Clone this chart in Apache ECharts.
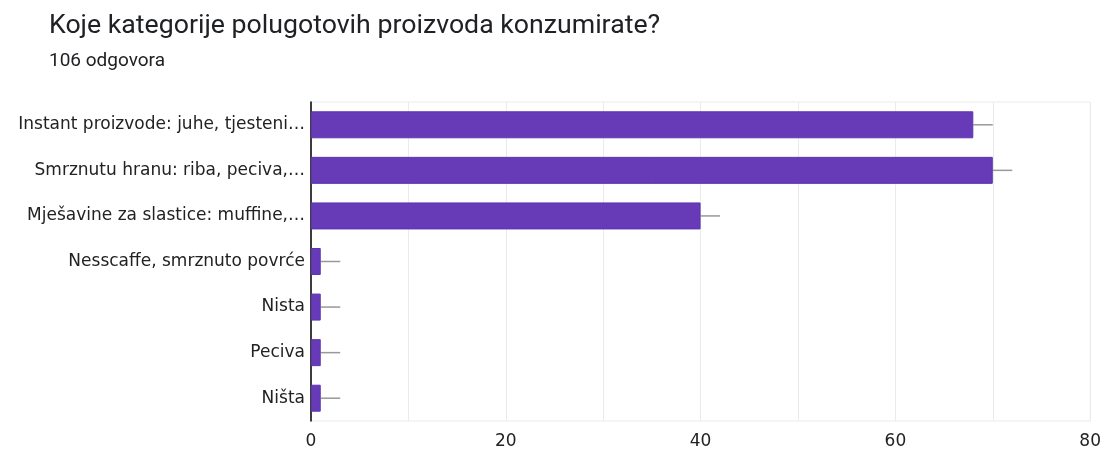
<!DOCTYPE html>
<html>
<head>
<meta charset="utf-8">
<script src="https://cdn.jsdelivr.net/npm/echarts@6/dist/echarts.min.js"></script>
<style>
html,body{margin:0;padding:0;background:#fff;}
#chart{width:1104px;height:450px;}
</style>
</head>
<body>
<div id="chart"></div>
<script>
const titleText = 'Koje kategorije polugotovih proizvoda konzumirate?';
const subtitleText = '106 odgovora';
const categories = [
  'Instant proizvode: juhe, tjesteni…',
  'Smrznutu hranu: riba, peciva,…',
  'Mješavine za slastice: muffine,…',
  'Nesscaffe, smrznuto povrće',
  'Nista',
  'Peciva',
  'Ništa'
];
const counts = [68, 70, 40, 1, 1, 1, 1];
const whiskerLength = [2, 2, 2, 2, 2, 2, 2];
const xTicks = [0, 20, 40, 60, 80];

const labelFont = 'DejaVu Sans';
const chart = echarts.init(document.getElementById('chart'), null, {renderer: 'canvas'});
chart.setOption({
  animation: false,
  backgroundColor: '#fff',
  title: [
    {text: titleText, left: 44, top: 8, textStyle: {fontFamily: 'Roboto', fontSize: 26.7, fontWeight: 'normal', color: '#202124'}},
    {text: subtitleText, left: 44, top: 47, textStyle: {fontFamily: 'Roboto', fontSize: 19, fontWeight: 'normal', color: '#202124'}}
  ],
  grid: {left: 311, right: 12, top: 102, bottom: 27, show: true, borderColor: '#ebebeb', borderWidth: 1},
  xAxis: {
    type: 'value', min: 0, max: 80, interval: 10,
    axisLine: {show: false}, axisTick: {show: false},
    splitLine: {show: true, lineStyle: {color: '#ebebeb', width: 1}},
    axisLabel: {
      margin: 12, fontFamily: labelFont, fontSize: 17, color: '#222',
      formatter: v => xTicks.indexOf(v) >= 0 ? String(v) : ''
    }
  },
  yAxis: {
    type: 'category', data: categories, inverse: true,
    axisLine: {show: true, lineStyle: {color: '#000', width: 1.5}},
    axisTick: {show: false},
    axisLabel: {margin: 6, fontFamily: labelFont, fontSize: 17, color: '#222'}
  },
  series: [
    {
      type: 'bar', data: counts, barWidth: 27,
      itemStyle: {color: '#673ab7', borderColor: '#5e35b1', borderWidth: 1}
    },
    {
      type: 'custom',
      data: counts.map((v, i) => [v, i, whiskerLength[i]]),
      encode: {x: 0, y: 1},
      renderItem: function (params, api) {
        const v = api.value(0), i = api.value(1), w = api.value(2);
        const p1 = api.coord([v, i]);
        const p2 = api.coord([v + w, i]);
        return {type: 'line', shape: {x1: p1[0], y1: p1[1], x2: p2[0], y2: p2[1]}, style: {stroke: '#999', lineWidth: 1.5}};
      },
      z: 1
    }
  ]
});
</script>
</body>
</html>
